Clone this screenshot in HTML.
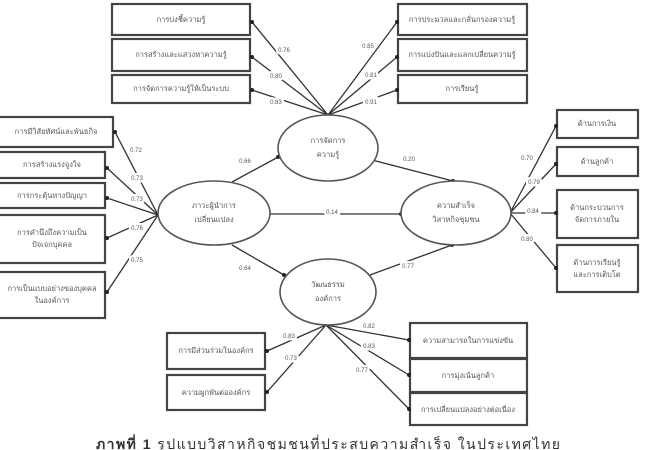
<!DOCTYPE html>
<html><head><meta charset="utf-8"><style>
html,body{margin:0;padding:0;background:#fff;}
svg{display:block;}
text{font-family:"Liberation Sans","DejaVu Sans",sans-serif;fill:#555;}
.b{fill:#fff;stroke:#444;stroke-width:2.2;}
.e{fill:#fff;stroke:#555;stroke-width:1.6;}
.l{stroke:#333;stroke-width:1.3;fill:none;}
.n{font-size:6px;text-anchor:middle;paint-order:stroke;stroke:#fff;stroke-width:5px;fill:#555;}
.t{font-size:7.5px;text-anchor:middle;fill:#555;}
</style></head><body>
<svg width="650" height="450" viewBox="0 0 650 450" xmlns="http://www.w3.org/2000/svg">
<rect class="b" x="112" y="4" width="138" height="31"/><text class="t" x="181" y="22">การบ่งชี้ความรู้</text>
<rect class="b" x="112" y="39" width="138" height="32"/><text class="t" x="181" y="57">การสร้างและแสวงหาความรู้</text>
<rect class="b" x="112" y="75" width="138" height="28"/><text class="t" x="181" y="91">การจัดการความรู้ให้เป็นระบบ</text>
<rect class="b" x="398" y="4" width="129" height="31"/><text class="t" x="462" y="22">การประมวลและกลั่นกรองความรู้</text>
<rect class="b" x="398" y="39" width="129" height="32"/><text class="t" x="462" y="57">การแบ่งปันและแลกเปลี่ยนความรู้</text>
<rect class="b" x="398" y="75" width="129" height="28"/><text class="t" x="462" y="91">การเรียนรู้</text>
<rect class="b" x="-2" y="117" width="115" height="30"/><text class="t" x="56" y="134">การมีวิสัยทัศน์และพันธกิจ</text>
<rect class="b" x="-2" y="152" width="107" height="26"/><text class="t" x="52" y="167">การสร้างแรงจูงใจ</text>
<rect class="b" x="-2" y="183" width="107" height="25"/><text class="t" x="52" y="198">การกระตุ้นทางปัญญา</text>
<rect class="b" x="-2" y="215" width="107" height="48"/><text class="t" x="52" y="235">การคำนึงถึงความเป็น</text><text class="t" x="52" y="247">ปัจเจกบุคคล</text>
<rect class="b" x="-2" y="272" width="107" height="46"/><text class="t" x="52" y="291">การเป็นแบบอย่างของบุคคล</text><text class="t" x="52" y="303">ในองค์การ</text>
<rect class="b" x="557" y="110" width="81" height="28"/><text class="t" x="597" y="126">ด้านการเงิน</text>
<rect class="b" x="557" y="147" width="81" height="29"/><text class="t" x="597" y="164">ด้านลูกค้า</text>
<rect class="b" x="557" y="190" width="81" height="48"/><text class="t" x="597" y="210">ด้านกระบวนการ</text><text class="t" x="597" y="222">จัดการภายใน</text>
<rect class="b" x="557" y="245" width="81" height="47"/><text class="t" x="597" y="265">ด้านการเรียนรู้</text><text class="t" x="597" y="277">และการเติบโต</text>
<rect class="b" x="167" y="333" width="98" height="36"/><text class="t" x="216" y="353">การมีส่วนร่วมในองค์กร</text>
<rect class="b" x="167" y="375" width="98" height="35"/><text class="t" x="216" y="395">ความผูกพันต่อองค์กร</text>
<rect class="b" x="410" y="323" width="117" height="35"/><text class="t" x="468" y="343">ความสามารถในการแข่งขัน</text>
<rect class="b" x="410" y="359" width="117" height="33"/><text class="t" x="468" y="378">การมุ่งเน้นลูกค้า</text>
<rect class="b" x="410" y="393" width="117" height="32"/><text class="t" x="468" y="412">การเปลี่ยนแปลงอย่างต่อเนื่อง</text>

<g class="l">
<line x1="328" y1="115" x2="252" y2="22"/>
<line x1="328" y1="115" x2="252" y2="57"/>
<line x1="328" y1="115" x2="252" y2="90"/>
<line x1="328" y1="115" x2="397" y2="22"/>
<line x1="328" y1="115" x2="397" y2="57"/>
<line x1="328" y1="115" x2="397" y2="90"/>
<line x1="158" y1="215" x2="115" y2="132"/>
<line x1="158" y1="215" x2="107" y2="168"/>
<line x1="158" y1="215" x2="107" y2="198"/>
<line x1="158" y1="215" x2="107" y2="238"/>
<line x1="158" y1="215" x2="107" y2="292"/>
<line x1="510" y1="213" x2="556" y2="126"/>
<line x1="510" y1="213" x2="556" y2="164"/>
<line x1="510" y1="213" x2="556" y2="213"/>
<line x1="510" y1="213" x2="556" y2="268"/>
<line x1="326" y1="325" x2="267" y2="351"/>
<line x1="326" y1="325" x2="267" y2="392"/>
<line x1="326" y1="325" x2="409" y2="340"/>
<line x1="326" y1="325" x2="409" y2="375"/>
<line x1="326" y1="325" x2="409" y2="409"/>
<line x1="232" y1="182" x2="280" y2="156"/>
<line x1="270" y1="214" x2="401" y2="214"/>
<line x1="232" y1="245" x2="284" y2="275"/>
<line x1="372" y1="160" x2="453" y2="181"/>
<line x1="370" y1="275" x2="452" y2="245"/>
</g>
<g fill="#222">
<circle cx="252" cy="22" r="2"/><circle cx="252" cy="57" r="2"/><circle cx="252" cy="90" r="2"/>
<circle cx="397" cy="22" r="2"/><circle cx="397" cy="57" r="2"/><circle cx="397" cy="90" r="2"/>
<circle cx="115" cy="132" r="2"/><circle cx="107" cy="168" r="2"/><circle cx="107" cy="198" r="2"/><circle cx="107" cy="238" r="2"/><circle cx="107" cy="292" r="2"/>
<circle cx="556" cy="126" r="2"/><circle cx="556" cy="164" r="2"/><circle cx="556" cy="213" r="2"/><circle cx="556" cy="268" r="2"/>
<circle cx="267" cy="351" r="2"/><circle cx="267" cy="392" r="2"/>
<circle cx="409" cy="340" r="2"/><circle cx="409" cy="375" r="2"/><circle cx="409" cy="409" r="2"/>
<circle cx="278" cy="157" r="2"/><circle cx="401" cy="214" r="2"/><circle cx="284" cy="275" r="2"/><circle cx="453" cy="181" r="2"/><circle cx="452" cy="245" r="2"/>
</g>
<ellipse class="e" cx="328" cy="148" rx="50" ry="33"/>
<text class="t" x="328" y="143">การจัดการ</text><text class="t" x="328" y="157">ความรู้</text>
<ellipse class="e" cx="214" cy="213" rx="56" ry="32"/>
<text class="t" x="214" y="208">ภาวะผู้นำการ</text><text class="t" x="214" y="222">เปลี่ยนแปลง</text>
<ellipse class="e" cx="456" cy="213" rx="55" ry="32"/>
<text class="t" x="456" y="208">ความสำเร็จ</text><text class="t" x="456" y="222">วิสาหกิจชุมชน</text>
<ellipse class="e" cx="328" cy="292" rx="48" ry="33"/>
<text class="t" x="328" y="287">วัฒนธรรม</text><text class="t" x="328" y="301">องค์การ</text>
<text class="n" x="284" y="52">0.76</text>
<text class="n" x="276" y="78">0.80</text>
<text class="n" x="276" y="104">0.83</text>
<text class="n" x="368" y="48">0.85</text>
<text class="n" x="371" y="77">0.81</text>
<text class="n" x="371" y="104">0.91</text>
<text class="n" x="136" y="152">0.72</text>
<text class="n" x="137" y="180">0.73</text>
<text class="n" x="137" y="201">0.73</text>
<text class="n" x="137" y="230">0.76</text>
<text class="n" x="137" y="262">0.75</text>
<text class="n" x="245" y="163">0.66</text>
<text class="n" x="332" y="214">0.14</text>
<text class="n" x="245" y="270">0.64</text>
<text class="n" x="409" y="161">0.20</text>
<text class="n" x="408" y="268">0.77</text>
<text class="n" x="527" y="160">0.70</text>
<text class="n" x="534" y="184">0.79</text>
<text class="n" x="533" y="213">0.84</text>
<text class="n" x="527" y="241">0.80</text>
<text class="n" x="289" y="338">0.83</text>
<text class="n" x="291" y="360">0.73</text>
<text class="n" x="369" y="328">0.82</text>
<text class="n" x="369" y="348">0.83</text>
<text class="n" x="362" y="372">0.77</text>
<text x="96" y="449" textLength="464" style="font-size:14px;fill:#333;"><tspan style="font-weight:bold;">ภาพที่ 1</tspan>  รูปแบบวิสาหกิจชุมชนที่ประสบความสำเร็จ ในประเทศไทย</text>
</svg>
</body></html>
